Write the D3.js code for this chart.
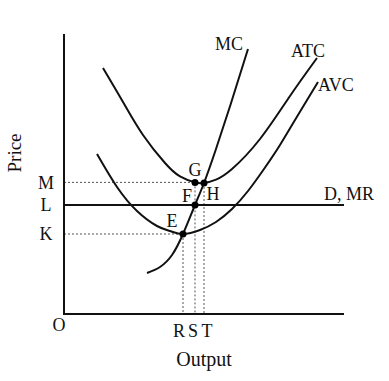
<!DOCTYPE html>
<html>
<head>
<meta charset="utf-8">
<script src="https://cdn.jsdelivr.net/npm/d3@7"></script>
<style>
  html, body { margin: 0; padding: 0; background: #fff; }
  text { font-family: "Liberation Serif", "Times New Roman", serif; fill: #111; }
</style>
</head>
<body>
<svg id="chart" width="389" height="381"></svg>
<script>
// ---- data ----
const mcOutput  = [41.5, 48, 54, 59.5, 65.5, 70, 76, 84, 92];
const mcPrice   = [20.5, 23.5, 29.5, 40, 54.5, 65.5, 82.5, 107, 132.5];

const atcOutput = [19.5, 29.5, 39.5, 50.5, 58, 65.5, 70, 76, 84, 98, 113, 126.5];
const atcPrice  = [123, 106, 89.5, 75.5, 68.8, 65.8, 65.5, 67.2, 72.5, 87.5, 109, 128];

const avcOutput = [16.5, 26.5, 36.5, 46.5, 53, 59.5, 68, 76, 84, 92, 100, 108, 117, 127];
const avcPrice  = [80, 63.5, 51.5, 44, 41.5, 40, 42, 46, 52.5, 61.5, 72.5, 84.5, 99.5, 116];

const priceLevel = 54.5;           // D, MR line
const priceTickLabels = ["M", "L", "K"];
const priceTickValues = [65.8, 54.5, 40];
const outputTickLabels = ["R", "S", "T"];
const outputTickValues = [59.5, 65.5, 70];

const pointNames  = ["E", "F", "G", "H"];
const pointOutput = [59.5, 65.5, 65.5, 70];
const pointPrice  = [40, 54.5, 65.8, 65.5];

// ---- scales ----
const svg = d3.select("#chart");
const x = d3.scaleLinear().domain([0, 140]).range([64, 344]);
const y = d3.scaleLinear().domain([0, 140]).range([314, 34]);

const line = d3.line().x(d => x(d[0])).y(d => y(d[1])).curve(d3.curveNatural);
const zip = (a, b) => a.map((v, i) => [v, b[i]]);

// dotted guide lines
const dotted = svg.append("g").attr("stroke", "#555").attr("stroke-width", 1)
  .attr("stroke-dasharray", "2,2").attr("fill", "none");
dotted.append("line").attr("x1", x(0)).attr("x2", x(pointOutput[2]))
  .attr("y1", y(priceTickValues[0])).attr("y2", y(priceTickValues[0]));
dotted.append("line").attr("x1", x(0)).attr("x2", x(pointOutput[0]))
  .attr("y1", y(priceTickValues[2])).attr("y2", y(priceTickValues[2]));
const vertTops = [pointPrice[0], pointPrice[2], pointPrice[3]];
outputTickValues.forEach((v, i) => {
  dotted.append("line").attr("x1", x(v)).attr("x2", x(v))
    .attr("y1", y(vertTops[i])).attr("y2", y(0));
});

// axes
const axes = svg.append("g").attr("stroke", "#111").attr("stroke-width", 2).attr("fill", "none");
axes.append("line").attr("x1", x(0)).attr("x2", x(0)).attr("y1", y(140)).attr("y2", y(0) + 1);
axes.append("line").attr("x1", x(0) - 1).attr("x2", x(140)).attr("y1", y(0)).attr("y2", y(0));

// D, MR line
svg.append("line").attr("x1", x(0)).attr("x2", x(140))
  .attr("y1", y(priceLevel)).attr("y2", y(priceLevel))
  .attr("stroke", "#111").attr("stroke-width", 2);

// curves
const curves = [zip(mcOutput, mcPrice), zip(atcOutput, atcPrice), zip(avcOutput, avcPrice)];
svg.append("g").selectAll("path").data(curves).join("path")
  .attr("d", line).attr("fill", "none").attr("stroke", "#111").attr("stroke-width", 2);

// points
svg.append("g").selectAll("circle").data(pointNames).join("circle")
  .attr("cx", (d, i) => x(pointOutput[i])).attr("cy", (d, i) => y(pointPrice[i]))
  .attr("r", 3.5).attr("fill", "#000");

// point labels
const ptLabelPos = { E: [-11, -7], F: [-8, -3], G: [0, -6], H: [9, 17] };
svg.append("g").selectAll("text").data(pointNames).join("text")
  .attr("x", (d, i) => x(pointOutput[i]) + ptLabelPos[d][0])
  .attr("y", (d, i) => y(pointPrice[i]) + ptLabelPos[d][1])
  .attr("text-anchor", "middle").attr("font-size", 18).text(d => d);

// price tick labels
svg.append("g").selectAll("text").data(priceTickLabels).join("text")
  .attr("x", 46).attr("y", (d, i) => y(priceTickValues[i]))
  .attr("dy", "0.35em").attr("text-anchor", "middle").attr("font-size", 18).text(d => d);

// output tick labels
const outDx = [-4, -2, 3];
svg.append("g").selectAll("text").data(outputTickLabels).join("text")
  .attr("x", (d, i) => x(outputTickValues[i]) + outDx[i]).attr("y", 337)
  .attr("text-anchor", "middle").attr("font-size", 18).text(d => d);

// origin
svg.append("text").attr("x", 59).attr("y", 331).attr("text-anchor", "middle")
  .attr("font-size", 18).text("O");

// curve labels
svg.append("text").attr("x", 215).attr("y", 50).attr("font-size", 18).text("MC");
svg.append("text").attr("x", 291).attr("y", 57).attr("font-size", 18).text("ATC");
svg.append("text").attr("x", 318).attr("y", 91).attr("font-size", 18).text("AVC");
svg.append("text").attr("x", 324).attr("y", 200).attr("font-size", 18).text("D, MR");

// axis titles
svg.append("text").attr("x", 204).attr("y", 366).attr("text-anchor", "middle")
  .attr("font-size", 20).text("Output");
svg.append("text").attr("transform", "translate(21,153) rotate(-90)")
  .attr("text-anchor", "middle").attr("font-size", 19).text("Price");
</script>
</body>
</html>
